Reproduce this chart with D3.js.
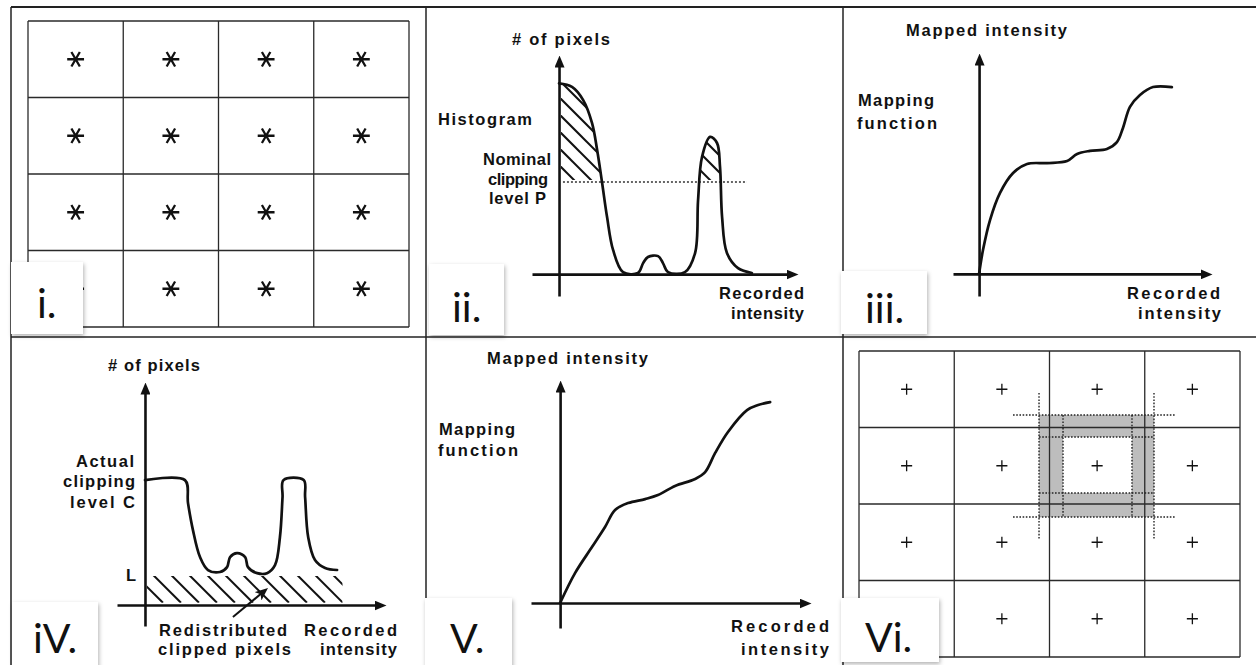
<!DOCTYPE html>
<html>
<head>
<meta charset="utf-8">
<script src="https://cdn.jsdelivr.net/npm/d3@7"></script>
<style>
  body { margin: 0; background: #fff; }
  svg { display: block; }
  .lbl { font-family: "Liberation Sans", Arial, sans-serif; font-weight: bold; font-size: 16.5px; fill: #111; }
  .tag { font-family: Lato, "Open Sans", sans-serif; font-size: 41px; fill: #111; }
  .axis path { stroke: #111; stroke-width: 2.6; }
  .curve { fill: none; stroke: #111; stroke-width: 2.7; stroke-linejoin: round; stroke-linecap: round; }
</style>
</head>
<body>
<svg id="fig" width="1256" height="665"></svg>
<script>
/* 4 x 4 grid of contextual regions (panels i and Vi) */
var gridCols = [0, 1, 2, 3],
    gridRows = [0, 1, 2, 3];

/* ii. histogram: recorded intensity vs # of pixels (0-100) */
var histogram = [[0,87],[5.6,85.4],[10.4,79.5],[14.3,68.9],[16.5,56.6],[18.6,42],[20.8,26],[23.4,11],
  [27.7,0.9],[34.2,0.5],[36.4,5],[38.5,7.8],[42.9,8.2],[45,5],[47.2,0.9],[54.5,0.9],[58.9,9.6],
  [60.2,33.8],[61.9,53.4],[65.4,62.6],[68.4,59.8],[69.7,48.9],[70.6,26],[72.7,9.6],[77.5,2.7],[83.5,0.5]];
var nominalClip = 42,
    nominalClipRange = [1.7, 81.4];

/* iii. mapping function from the plain histogram */
var mapping1 = [[0,0],[1.7,10.9],[4.7,24.4],[9,36.7],[14.6,45.7],[20.6,49.8],[29.2,50.2],[37.8,51.1],
  [42.1,54.3],[47.6,55.7],[54.9,56.6],[59.2,59.7],[61.8,66.1],[64.8,75.6],[69.1,81],[74.7,84.6],[82.8,84.6]];

/* iV. clipped histogram */
var clipped = [[0,56],[17,56],[18.3,45.7],[20.4,33.6],[23.4,21.5],[26.8,15.7],[31.9,14.8],[34.9,17],
  [36.2,21.5],[39.1,23.3],[42.6,21.5],[43.8,17],[47.7,14.3],[51.9,14.3],[55.3,17.9],[57.4,30.5],
  [58.5,48.4],[58.9,56],[67.5,56],[68.1,48.4],[69.4,30.5],[72.3,20.2],[76.6,16.6],[81.7,15.7]];
var levelL = 13,
    redistRange = [0.8, 84],
    pointer = [[37.4,-5.4],[50.2,5.8]];

/* V. mapping function from the clipped histogram */
var mapping2 = [[0,0],[6,13.5],[12.7,25.1],[17.9,34.1],[21.9,41.7],[27.1,44.8],[33.9,46.6],[39,48.4],
  [45.8,52.5],[53.8,55.6],[57.8,58.7],[61.8,67.3],[66.9,76.7],[74.5,86.5],[78.9,88.8],[83.7,90.1]];

/* Vi. bilinear neighbourhood around the centre tile, in grid units */
var shadeOuter = {x: [1.89, 3.097], y: [0.837, 2.17]},
    shadeInner = {x: [2.142, 2.866], y: [1.124, 1.856]},
    dotReachX = [1.617, 3.318],
    dotReachY = [0.549, 2.47];

var panelTags = ["i.", "ii.", "iii.", "iV.", "V.", "Vi."];

var svg = d3.select("#fig");
var defs = svg.append("defs");

defs.append("marker").attr("id", "arrow")
    .attr("viewBox", "0 0 12 10").attr("refX", 4).attr("refY", 5)
    .attr("markerWidth", 12).attr("markerHeight", 10)
    .attr("markerUnits", "userSpaceOnUse").attr("orient", "auto")
  .append("path").attr("d", "M0,0L12,5L0,10Z").attr("fill", "#111");

defs.append("marker").attr("id", "pointer")
    .attr("viewBox", "0 0 12 10").attr("refX", 6).attr("refY", 5)
    .attr("markerWidth", 13).attr("markerHeight", 11)
    .attr("markerUnits", "userSpaceOnUse").attr("orient", "auto")
  .append("path").attr("d", "M0,0L12,5L0,10L3,5Z").attr("fill", "#111");

var shadow = defs.append("filter").attr("id", "shadow")
    .attr("x", "-20%").attr("y", "-20%").attr("width", "150%").attr("height", "150%");
shadow.append("feDropShadow").attr("dx", 1).attr("dy", 2).attr("stdDeviation", 2)
    .attr("flood-color", "#000").attr("flood-opacity", 0.3);

/* frame of the six panels */
var frame = svg.append("g").attr("stroke", "#222").attr("stroke-width", 1.5);
frame.append("line").attr("x1", 11).attr("y1", 7).attr("x2", 1256).attr("y2", 7).attr("stroke-width", 2.2);
frame.append("line").attr("x1", 11).attr("y1", 337).attr("x2", 1256).attr("y2", 337);
[11, 426, 843].forEach(function(x) {
  frame.append("line").attr("x1", x).attr("y1", 7).attr("x2", x).attr("y2", 665);
});

var asterisk = d3.symbolAsterisk || {draw: function(c, s) {
  var r = Math.sqrt(s) * 0.59436, t = r / 2, u = t * Math.sqrt(3);
  c.moveTo(0, r); c.lineTo(0, -r); c.moveTo(-u, -t); c.lineTo(u, t); c.moveTo(-u, t); c.lineTo(u, -t);
}};
var plus = d3.symbolPlus || {draw: function(c, s) {
  var r = Math.sqrt(s) * 0.87559;
  c.moveTo(-r, 0); c.lineTo(r, 0); c.moveTo(0, r); c.lineTo(0, -r);
}};

function gridScales(x0, x1, y0, y1) {
  return {
    x: d3.scaleLinear().domain([0, gridCols.length]).range([x0, x1]),
    y: d3.scaleLinear().domain([0, gridRows.length]).range([y0, y1])
  };
}

function drawGrid(g, s, symbolPath, rotate, width) {
  var lines = g.append("g").attr("stroke", "#2a2a2a").attr("stroke-width", 1.3);
  lines.selectAll("line.v").data(d3.range(gridCols.length + 1)).join("line").attr("class", "v")
      .attr("x1", s.x).attr("x2", s.x).attr("y1", s.y(0)).attr("y2", s.y(gridRows.length));
  lines.selectAll("line.h").data(d3.range(gridRows.length + 1)).join("line").attr("class", "h")
      .attr("y1", s.y).attr("y2", s.y).attr("x1", s.x(0)).attr("x2", s.x(gridCols.length));
  var cells = d3.cross(gridRows, gridCols);
  g.append("g").selectAll("path").data(cells).join("path")
      .attr("d", symbolPath)
      .attr("transform", function(d) {
        return "translate(" + s.x(d[1] + 0.5) + "," + s.y(d[0] + 0.5) + ") rotate(" + rotate + ")";
      })
      .attr("fill", "none").attr("stroke", "#111").attr("stroke-width", width);
}

function drawAxes(g, x, y) {
  g.append("g").attr("class", "axis").attr("transform", "translate(0," + y(0) + ")")
      .call(d3.axisBottom(x).tickValues([]).tickSizeOuter(0))
    .select(".domain").attr("marker-end", "url(#arrow)");
  g.append("g").attr("class", "axis").attr("transform", "translate(" + x(0) + ",0)")
      .call(d3.axisLeft(y).tickValues([]).tickSizeOuter(0))
    .select(".domain").attr("marker-end", "url(#arrow)");
}

function txt(g, s, left, right, base) {
  var t = g.append("text").attr("class", "lbl").attr("x", left).attr("y", base).text(s);
  if (s.length > 1) t.attr("textLength", right - left).attr("lengthAdjust", "spacing");
}

function hatch(g, x0, y0, x1, y1, step) {
  var h = y1 - y0;
  g.selectAll("line").data(d3.range(x0 - h, x1, step)).join("line")
      .attr("x1", function(d) { return d; }).attr("y1", y0)
      .attr("x2", function(d) { return d + h; }).attr("y2", y1)
      .attr("stroke", "#111").attr("stroke-width", 2);
}

var curveType = d3.curveCatmullRom.alpha(0.5);

/* ---------- i. ---------- */
var gI = svg.append("g");
drawGrid(gI, gridScales(28, 409, 21, 327), d3.symbol(asterisk, 200), 90, 2.3);

/* ---------- ii. ---------- */
var gII = svg.append("g");
var x2 = d3.scaleLinear().domain([-11.7, 100]).range([532, 790]),
    y2 = d3.scaleLinear().domain([-10, 96.3]).range([296, 63]);
var line2 = d3.line().x(function(d) { return x2(d[0]); }).y(function(d) { return y2(d[1]); }).curve(curveType);
var area2 = d3.area().x(function(d) { return x2(d[0]); }).y0(y2(0)).y1(function(d) { return y2(d[1]); }).curve(curveType);

defs.append("clipPath").attr("id", "band2").append("rect")
    .attr("x", x2(0) + 2).attr("y", 0).attr("width", x2(100) - x2(0)).attr("height", y2(nominalClip) - 2);
defs.append("clipPath").attr("id", "under2").append("path").attr("d", area2(histogram));
var h2 = gII.append("g").attr("clip-path", "url(#band2)").append("g").attr("clip-path", "url(#under2)");
hatch(h2, x2(0), y2(96), x2(100), y2(nominalClip), 17);

gII.append("line")
    .attr("x1", x2(nominalClipRange[0])).attr("x2", x2(nominalClipRange[1]))
    .attr("y1", y2(nominalClip)).attr("y2", y2(nominalClip))
    .attr("stroke", "#333").attr("stroke-width", 1.6).attr("stroke-dasharray", "2,2");
drawAxes(gII, x2, y2);
gII.append("path").attr("class", "curve").attr("d", line2(histogram));
txt(gII, "# of pixels", 512, 610, 45);
txt(gII, "Histogram", 438, 532, 125);
txt(gII, "Nominal", 483, 551, 165);
txt(gII, "clipping", 488, 548, 185);
txt(gII, "level P", 489, 546, 204);
txt(gII, "Recorded", 719, 804, 299);
txt(gII, "intensity", 731, 804, 319);

/* ---------- iii. ---------- */
var gIII = svg.append("g");
var x3 = d3.scaleLinear().domain([-11.2, 96.6]).range([953, 1204]),
    y3 = d3.scaleLinear().domain([-10, 96.4]).range([296, 61]);
drawAxes(gIII, x3, y3);
gIII.append("path").attr("class", "curve")
    .attr("d", d3.line().x(function(d) { return x3(d[0]); }).y(function(d) { return y3(d[1]); }).curve(curveType)(mapping1));
txt(gIII, "Mapped intensity", 906, 1067, 36);
txt(gIII, "Mapping", 858, 934, 106);
txt(gIII, "function", 857, 937, 129);
txt(gIII, "Recorded", 1127, 1220, 299);
txt(gIII, "intensity", 1138, 1221, 319);

/* ---------- iV. ---------- */
var gIV = svg.append("g");
var x4 = d3.scaleLinear().domain([-11.9, 99.1]).range([117, 378]),
    y4 = d3.scaleLinear().domain([-9.4, 96.4]).range([626, 390]);
defs.append("clipPath").attr("id", "redist").append("rect")
    .attr("x", x4(redistRange[0])).attr("y", y4(levelL))
    .attr("width", x4(redistRange[1]) - x4(redistRange[0])).attr("height", y4(1) - y4(levelL));
hatch(gIV.append("g").attr("clip-path", "url(#redist)"), x4(0), y4(levelL) - 1, x4(redistRange[1]) + 20, y4(1), 18);
drawAxes(gIV, x4, y4);
gIV.append("path").attr("class", "curve")
    .attr("d", d3.line().x(function(d) { return x4(d[0]); }).y(function(d) { return y4(d[1]); }).curve(curveType)(clipped));
gIV.append("line")
    .attr("x1", x4(pointer[0][0])).attr("y1", y4(pointer[0][1]))
    .attr("x2", x4(pointer[1][0])).attr("y2", y4(pointer[1][1]))
    .attr("stroke", "#111").attr("stroke-width", 2).attr("marker-end", "url(#pointer)");
txt(gIV, "# of pixels", 108, 200, 371);
txt(gIV, "Actual", 76, 134, 467);
txt(gIV, "clipping", 63, 135, 487);
txt(gIV, "level C", 70, 135, 508);
txt(gIV, "L", 126, 135, 581);
txt(gIV, "Redistributed", 159, 287, 636);
txt(gIV, "clipped pixels", 158, 291, 655);
txt(gIV, "Recorded", 304, 397, 636);
txt(gIV, "intensity", 320, 397, 655);

/* ---------- V. ---------- */
var gV = svg.append("g");
var x5 = d3.scaleLinear().domain([-11.6, 96.8]).range([531, 803]),
    y5 = d3.scaleLinear().domain([-11.2, 96.4]).range([628, 388]);
drawAxes(gV, x5, y5);
gV.append("path").attr("class", "curve")
    .attr("d", d3.line().x(function(d) { return x5(d[0]); }).y(function(d) { return y5(d[1]); }).curve(curveType)(mapping2));
txt(gV, "Mapped intensity", 487, 648, 364);
txt(gV, "Mapping", 439, 515, 435);
txt(gV, "function", 438, 518, 456);
txt(gV, "Recorded", 731, 829, 632);
txt(gV, "intensity", 741, 829, 655);

/* ---------- Vi. ---------- */
var gVI = svg.append("g");
var s6 = gridScales(859, 1240, 351, 657);
var rectPath = function(b) {
  return "M" + s6.x(b.x[0]) + "," + s6.y(b.y[0]) + "H" + s6.x(b.x[1]) + "V" + s6.y(b.y[1]) + "H" + s6.x(b.x[0]) + "Z";
};
gVI.append("path").attr("d", rectPath(shadeOuter) + rectPath(shadeInner))
    .attr("fill", "#bdbdbd").attr("fill-rule", "evenodd");
drawGrid(gVI, s6, d3.symbol(plus, 42), 0, 1.3);
var dots = gVI.append("g").attr("stroke", "#222").attr("stroke-width", 1.4).attr("stroke-dasharray", "1.6,1.6");
shadeOuter.y.forEach(function(v) {
  dots.append("line").attr("x1", s6.x(dotReachX[0])).attr("x2", s6.x(dotReachX[1])).attr("y1", s6.y(v)).attr("y2", s6.y(v));
});
shadeOuter.x.forEach(function(v) {
  dots.append("line").attr("y1", s6.y(dotReachY[0])).attr("y2", s6.y(dotReachY[1])).attr("x1", s6.x(v)).attr("x2", s6.x(v));
});
shadeInner.y.forEach(function(v) {
  dots.append("line").attr("x1", s6.x(shadeOuter.x[0])).attr("x2", s6.x(shadeOuter.x[1])).attr("y1", s6.y(v)).attr("y2", s6.y(v));
});
shadeInner.x.forEach(function(v) {
  dots.append("line").attr("y1", s6.y(shadeOuter.y[0])).attr("y2", s6.y(shadeOuter.y[1])).attr("x1", s6.x(v)).attr("x2", s6.x(v));
});

/* ---------- panel tags ---------- */
var tagBoxes = [
  {x: 11, y: 262, w: 72, h: 72, tx: 37, ty: 318},
  {x: 429, y: 264, w: 75, h: 71, tx: 452, ty: 322},
  {x: 841, y: 271, w: 86, h: 63, tx: 865, ty: 323},
  {x: 12, y: 602, w: 86, h: 70, tx: 33, ty: 653},
  {x: 425, y: 598, w: 87, h: 74, tx: 450, ty: 653},
  {x: 841, y: 598, w: 98, h: 64, tx: 865, ty: 652}
];
var tags = svg.append("g").selectAll("g").data(panelTags).join("g");
tags.append("rect")
    .attr("x", function(d, i) { return tagBoxes[i].x; }).attr("y", function(d, i) { return tagBoxes[i].y; })
    .attr("width", function(d, i) { return tagBoxes[i].w; }).attr("height", function(d, i) { return tagBoxes[i].h; })
    .attr("fill", "#fff").attr("filter", "url(#shadow)");
tags.append("text").attr("class", "tag")
    .attr("x", function(d, i) { return tagBoxes[i].tx; }).attr("y", function(d, i) { return tagBoxes[i].ty; })
    .text(function(d) { return d; });
</script>
</body>
</html>
